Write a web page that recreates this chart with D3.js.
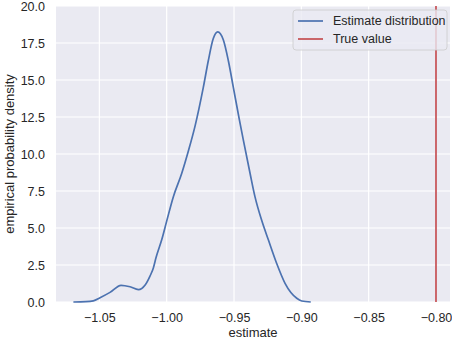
<!DOCTYPE html>
<html>
<head>
<meta charset="utf-8">
<script src="https://cdn.jsdelivr.net/npm/d3@7"></script>
<style>
  body { margin: 0; background: #fff; }
  text { font-family: "Liberation Sans", Arial, sans-serif; fill: #262626; }
</style>
</head>
<body>
<script>
// density curve
const estX = [-1.0693, -1.0600, -1.0545, -1.0495, -1.0421, -1.0339, -1.0272, -1.0210, -1.0160,
  -1.0124, -1.0099, -1.0079, -1.0037, -0.9999, -0.9951, -0.9888, -0.9839, -0.9789, -0.9728,
  -0.9691, -0.9654, -0.9621, -0.9579, -0.9542, -0.9505, -0.9460, -0.9431, -0.9381, -0.9344,
  -0.9294, -0.9245, -0.9183, -0.9121, -0.9034, -0.8997, -0.8930];
const estY = [0.0, 0.02, 0.08, 0.29, 0.65, 1.13, 1.03, 0.84, 1.15,
  1.75, 2.3, 3.0, 4.2, 5.5, 7.1, 8.7, 10.2, 11.9, 14.5,
  16.3, 17.8, 18.25, 17.7, 16.3, 14.5, 12.3, 10.95, 8.7, 7.1,
  5.5, 4.2, 2.6, 1.26, 0.25, 0.07, 0.0];
const trueValue = -0.80;
const xTicks = [-1.05, -1.00, -0.95, -0.90, -0.85, -0.80];
const yTicks = [0, 2.5, 5, 7.5, 10, 12.5, 15, 17.5, 20];
const legendLabels = ["Estimate distribution", "True value"];

const options = { width: 452, height: 339 };
const margin = { top: 6, right: 2, bottom: 37, left: 56 };
const blue = "#4c72b0", red = "#c44e52";

let svg = d3.select("body").append("svg")
  .attr("width", options.width)
  .attr("height", options.height);

const x = d3.scaleLinear()
  .domain([-1.0822, -0.7896])
  .range([margin.left, options.width - margin.right]);
const y = d3.scaleLinear()
  .domain([0, 20])
  .range([options.height - margin.bottom, margin.top]);

svg.append("rect")
  .attr("x", margin.left).attr("y", margin.top)
  .attr("width", options.width - margin.left - margin.right)
  .attr("height", options.height - margin.top - margin.bottom)
  .attr("fill", "#eaeaf2");

// grid
svg.append("g").selectAll("line").data(xTicks).enter().append("line")
  .attr("x1", d => x(d)).attr("x2", d => x(d))
  .attr("y1", margin.top).attr("y2", options.height - margin.bottom)
  .attr("stroke", "#fff").attr("stroke-width", 1.2);
svg.append("g").selectAll("line").data(yTicks).enter().append("line")
  .attr("x1", margin.left).attr("x2", options.width - margin.right)
  .attr("y1", d => y(d)).attr("y2", d => y(d))
  .attr("stroke", "#fff").attr("stroke-width", 1.2);

// axes
const xAxis = svg.append("g")
  .attr("transform", `translate(0,${options.height - margin.bottom})`)
  .call(d3.axisBottom(x).tickValues(xTicks).tickSize(0).tickPadding(11)
    .tickFormat(d => d3.format(".2f")(d).replace("-", "\u2212")));
const yAxis = svg.append("g")
  .attr("transform", `translate(${margin.left},0)`)
  .call(d3.axisLeft(y).tickValues(yTicks).tickSize(0).tickPadding(11)
    .tickFormat(d3.format(".1f")));
[xAxis, yAxis].forEach(a => {
  a.select(".domain").remove();
  a.selectAll("text").style("font-size", "12.5px")
    .style("font-family", '"Liberation Sans", Arial, sans-serif').attr("fill", "#262626");
});

svg.append("text")
  .attr("x", (margin.left + options.width - margin.right) / 2)
  .attr("y", options.height - 2)
  .attr("text-anchor", "middle")
  .style("font-size", "13px")
  .text("estimate");
svg.append("text")
  .attr("transform", `translate(14,${(margin.top + options.height - margin.bottom) / 2}) rotate(-90)`)
  .attr("text-anchor", "middle")
  .style("font-size", "13px")
  .text("empirical probability density");

// kde line
const line = d3.line()
  .x((d, i) => x(estX[i]))
  .y(d => y(d))
  .curve(d3.curveMonotoneX);
svg.append("path")
  .datum(estY)
  .attr("d", line)
  .attr("fill", "none")
  .attr("stroke", blue)
  .attr("stroke-width", 1.7);

// true value
svg.append("line")
  .attr("x1", x(trueValue)).attr("x2", x(trueValue))
  .attr("y1", y(0)).attr("y2", y(20))
  .attr("stroke", red).attr("stroke-width", 1.7);

// legend
let legend = svg.append("g").attr("transform", "translate(293,10)");
legend.append("rect")
  .attr("width", 154).attr("height", 40).attr("rx", 3)
  .attr("fill", "#eaeaf2").attr("fill-opacity", 0.8)
  .attr("stroke", "#cccccc").attr("stroke-width", 0.8);
legend.selectAll(".item")
  .data(legendLabels)
  .enter()
  .append("g")
  .attr("transform", (d, i) => `translate(0,${11 + i * 18})`)
  .each(function (d, i) {
    const g = d3.select(this);
    g.append("line").attr("x1", 5).attr("x2", 30)
      .attr("stroke", i === 0 ? blue : red).attr("stroke-width", 1.7);
    g.append("text").attr("x", 40).attr("dy", "0.35em")
      .style("font-size", "12.5px").text(d);
  });
</script>
</body>
</html>
